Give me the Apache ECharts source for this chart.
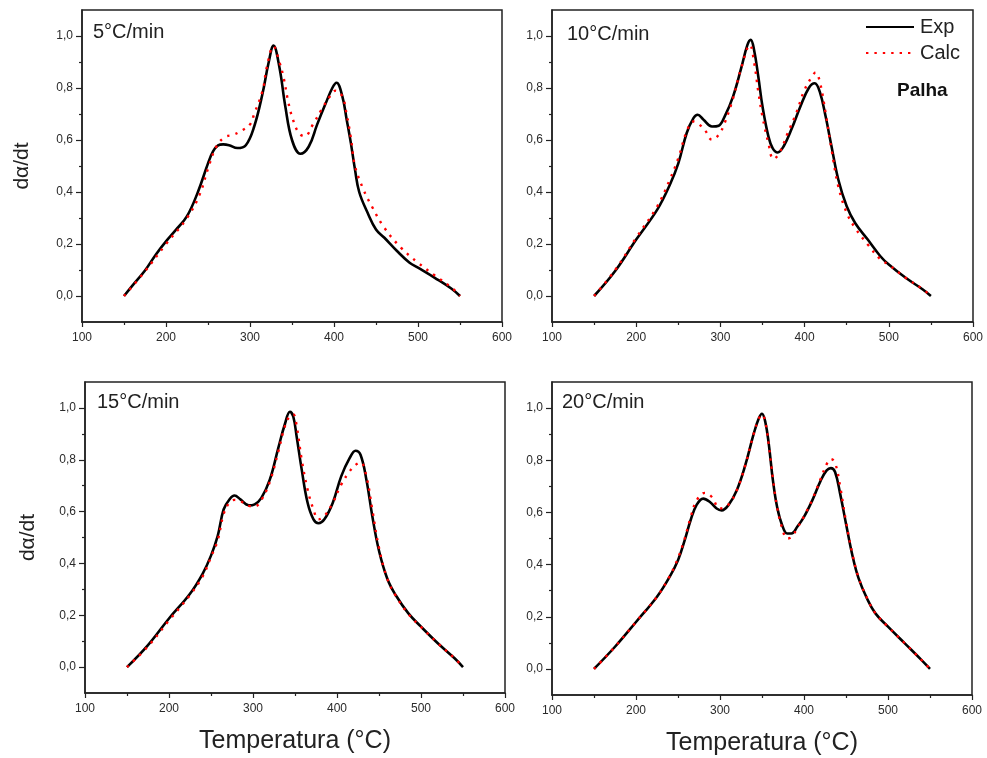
<!DOCTYPE html>
<html>
<head>
<meta charset="utf-8">
<script src="https://cdn.jsdelivr.net/npm/echarts@6/dist/echarts.min.js"></script>
<style>
html,body{margin:0;padding:0;background:#fff;}
#chart{width:987px;height:758px;}
</style>
</head>
<body>
<div id="chart"></div>
<script>
// ---- Data ----
const panelLabels = ['5°C/min', '10°C/min', '15°C/min', '20°C/min'];
const xTicks = [100, 200, 300, 400, 500, 600];
const yTickLabels = [0, 0.2, 0.4, 0.6, 0.8, 1.0];
const yMinorTicks = [0.1, 0.3, 0.5, 0.7, 0.9];

// 5 °C/min
const T5_exp = [150,160,175,188,200,212,225,238,250,256,262,268,275,285,295,305,315,322,328,335,342,350,360,370,380,390,398,403,410,415,420,425,430,440,450,460,475,490,500,520,540,550];
const Y5_exp = [0,0.04,0.098,0.16,0.21,0.255,0.307,0.40,0.51,0.556,0.579,0.583,0.58,0.569,0.58,0.652,0.78,0.895,0.963,0.88,0.73,0.60,0.547,0.575,0.66,0.74,0.80,0.82,0.767,0.68,0.59,0.486,0.40,0.32,0.256,0.224,0.173,0.128,0.109,0.07,0.028,0];
const T5_calc = [150,175,200,225,240,250,260,270,280,290,300,305,315,320,328,335,340,345,350,358,365,375,385,395,402,410,415,420,425,435,445,460,480,500,520,540,550];
const Y5_calc = [0,0.095,0.20,0.30,0.39,0.49,0.575,0.611,0.62,0.636,0.66,0.70,0.79,0.88,0.96,0.90,0.84,0.755,0.69,0.627,0.614,0.66,0.716,0.767,0.79,0.767,0.70,0.61,0.50,0.41,0.345,0.262,0.185,0.128,0.079,0.032,0];

// 10 °C/min
const T10_exp = [150,175,200,225,240,250,260,268,273,280,290,298,305,315,325,332,336,340,345,350,357,362,368,375,385,395,405,412,418,425,432,440,450,460,475,490,500,520,540,550];
const Y10_exp = [0,0.096,0.217,0.332,0.428,0.51,0.627,0.684,0.697,0.678,0.652,0.655,0.69,0.767,0.88,0.965,0.985,0.946,0.844,0.729,0.614,0.569,0.552,0.575,0.646,0.729,0.80,0.818,0.786,0.69,0.575,0.448,0.345,0.281,0.217,0.153,0.121,0.07,0.026,0];
const T10_calc = [150,175,200,225,240,250,260,268,275,282,290,298,305,315,325,335,340,345,350,357,363,370,380,390,400,410,413,418,425,432,440,450,460,475,490,500,520,540,550];
const Y10_calc = [0,0.10,0.224,0.345,0.448,0.53,0.633,0.671,0.659,0.636,0.601,0.62,0.665,0.76,0.88,0.965,0.90,0.786,0.69,0.588,0.527,0.55,0.627,0.703,0.793,0.85,0.86,0.825,0.703,0.563,0.422,0.32,0.262,0.198,0.141,0.12,0.07,0.027,0];

// 15 °C/min
const T15_exp = [150,175,200,225,240,250,258,265,272,278,285,295,302,310,320,330,338,344,348,352,358,365,372,378,385,395,405,415,422,428,435,442,450,460,470,485,500,520,540,550];
const Y15_exp = [0,0.085,0.1875,0.283,0.36,0.43,0.506,0.608,0.647,0.662,0.647,0.624,0.628,0.653,0.723,0.844,0.938,0.985,0.966,0.889,0.762,0.634,0.57,0.555,0.57,0.634,0.736,0.806,0.835,0.819,0.723,0.583,0.449,0.34,0.277,0.207,0.156,0.092,0.034,0];
const T15_calc = [150,175,200,225,240,250,258,265,272,278,285,295,302,310,320,330,338,344,348,352,358,365,372,378,385,395,405,415,422,428,435,442,450,460,470,485,500,520,540,550];
const Y15_calc = [0,0.08,0.18,0.278,0.35,0.425,0.49,0.59,0.635,0.645,0.64,0.622,0.62,0.645,0.715,0.83,0.93,0.97,0.975,0.93,0.80,0.685,0.608,0.57,0.583,0.634,0.704,0.755,0.78,0.79,0.736,0.608,0.46,0.34,0.275,0.205,0.155,0.092,0.034,0];

// 20 °C/min
const T20_exp = [150,175,200,225,240,250,258,265,272,280,288,296,302,310,320,330,340,346,350,354,358,363,368,374,380,385,392,400,410,420,427,432,437,443,450,458,465,475,485,500,520,540,550];
const Y20_exp = [0,0.085,0.18,0.277,0.353,0.417,0.494,0.57,0.628,0.653,0.64,0.615,0.608,0.628,0.685,0.78,0.90,0.959,0.978,0.946,0.864,0.723,0.621,0.551,0.519,0.519,0.545,0.583,0.647,0.723,0.761,0.77,0.755,0.672,0.557,0.43,0.347,0.27,0.213,0.162,0.098,0.034,0];
const T20_calc = [150,175,200,225,240,250,258,265,272,282,290,300,310,320,330,340,346,350,354,358,363,368,374,380,385,392,400,410,420,427,432,437,443,450,458,465,475,485,500,520,540,550];
const Y20_calc = [0,0.085,0.18,0.277,0.355,0.425,0.50,0.58,0.645,0.675,0.66,0.615,0.63,0.685,0.78,0.90,0.958,0.975,0.945,0.86,0.73,0.62,0.54,0.50,0.505,0.54,0.585,0.65,0.73,0.785,0.805,0.79,0.70,0.565,0.435,0.35,0.272,0.213,0.162,0.098,0.034,0];

const expSets = [[T5_exp,Y5_exp],[T10_exp,Y10_exp],[T15_exp,Y15_exp],[T20_exp,Y20_exp]];
const calcSets = [[T5_calc,Y5_calc],[T10_calc,Y10_calc],[T15_calc,Y15_calc],[T20_calc,Y20_calc]];

// ---- Layout ----
const FONT = "'Liberation Sans', Arial, sans-serif";
const INK = '#222';
const grids = [
  {left: 82, top: 10, width: 420, height: 312},
  {left: 552, top: 10, width: 421, height: 312},
  {left: 85, top: 382, width: 420, height: 311},
  {left: 552, top: 382, width: 420, height: 313}
];
const titlePos = [[93, 22], [567, 24], [97, 392], [562, 392]];
const pairs = (t, y) => t.map((v, i) => [v, y[i]]);
const fmt = v => v.toFixed(1).replace('.', ',');

const option = {
  animation: false,
  backgroundColor: '#fff',
  textStyle: {fontFamily: FONT},
  title: panelLabels.map((t, i) => ({
    text: t, left: titlePos[i][0], top: titlePos[i][1], padding: 0,
    textStyle: {fontFamily: FONT, fontSize: 20, fontWeight: 'normal', color: INK}
  })).concat([{
    text: 'Palha', left: 897, top: 81, padding: 0,
    textStyle: {fontFamily: FONT, fontSize: 19, fontWeight: 'bold', color: '#111'}
  }]),
  legend: {
    data: ['Exp', 'Calc'], orient: 'vertical', left: 865, top: 17, padding: 0,
    itemWidth: 48, itemHeight: 14, itemGap: 6,
    itemStyle: {color: 'rgba(0,0,0,0)', borderColor: 'rgba(0,0,0,0)', borderWidth: 0},
    textStyle: {fontFamily: FONT, fontSize: 20, color: INK, padding: [0,0,0,1]},
    selectedMode: false
  },
  grid: grids.map(g => Object.assign({show: true, borderColor: INK, borderWidth: 1.5, backgroundColor: 'transparent', containLabel: false}, g)),
  xAxis: grids.map((g, i) => ({
    type: 'value', gridIndex: i, min: 100, max: 600, interval: 100,
    name: i >= 2 ? 'Temperatura (°C)' : '', nameLocation: 'middle', nameGap: 36,
    nameTextStyle: {fontFamily: FONT, fontSize: 25, color: INK},
    axisLine: {show: true, onZero: false, lineStyle: {color: INK, width: 1.5}},
    axisTick: {show: true, inside: false, length: 5, lineStyle: {color: INK, width: 1.2}},
    minorTick: {show: true, splitNumber: 2, length: 3, lineStyle: {color: INK, width: 1.2}},
    axisLabel: {fontFamily: FONT, fontSize: 12, color: '#2a2a2a', margin: 10},
    splitLine: {show: false}, minorSplitLine: {show: false}
  })),
  yAxis: grids.map((g, i) => ({
    type: 'value', gridIndex: i, min: -0.1, max: 1.1,
    name: (i === 0 || i === 2) ? 'dα/dt' : '', nameLocation: 'middle', nameGap: i === 0 ? 49 : 46,
    nameTextStyle: {fontFamily: FONT, fontSize: 21, color: INK},
    axisLine: {show: true, onZero: false, lineStyle: {color: INK, width: 1.5}},
    axisTick: {show: true, inside: false, length: 6, customValues: yTickLabels, lineStyle: {color: INK, width: 1.2}},
    axisLabel: {fontFamily: FONT, fontSize: 12, color: '#2a2a2a', margin: 9, customValues: yTickLabels, formatter: fmt},
    splitLine: {show: false}
  })).concat(grids.map((g, i) => ({
    type: 'value', gridIndex: i, min: -0.1, max: 1.1, position: 'left',
    axisLine: {show: false, onZero: false},
    axisTick: {show: true, inside: false, length: 3, customValues: yMinorTicks, lineStyle: {color: INK, width: 1.2}},
    axisLabel: {show: false},
    splitLine: {show: false}
  }))),
  series: []
};

expSets.forEach((s, i) => {
  option.series.push({
    name: 'Exp', type: 'line', xAxisIndex: i, yAxisIndex: i,
    data: pairs(s[0], s[1]), showSymbol: false, symbol: 'none',
    smooth: 0.4,
    lineStyle: {color: '#000', width: 2.6}, itemStyle: {color: '#000'}, z: 2
  });
});
calcSets.forEach((s, i) => {
  option.series.push({
    name: 'Calc', type: 'line', xAxisIndex: i, yAxisIndex: i,
    data: pairs(s[0], s[1]), showSymbol: false, symbol: 'none',
    smooth: 0.4,
    lineStyle: {color: '#ff0000', width: 2.4, type: [2.4, 6]}, itemStyle: {color: '#ff0000'}, z: 3
  });
});

const chart = echarts.init(document.getElementById('chart'), null, {renderer: 'canvas'});
chart.setOption(option);
</script>
</body>
</html>
